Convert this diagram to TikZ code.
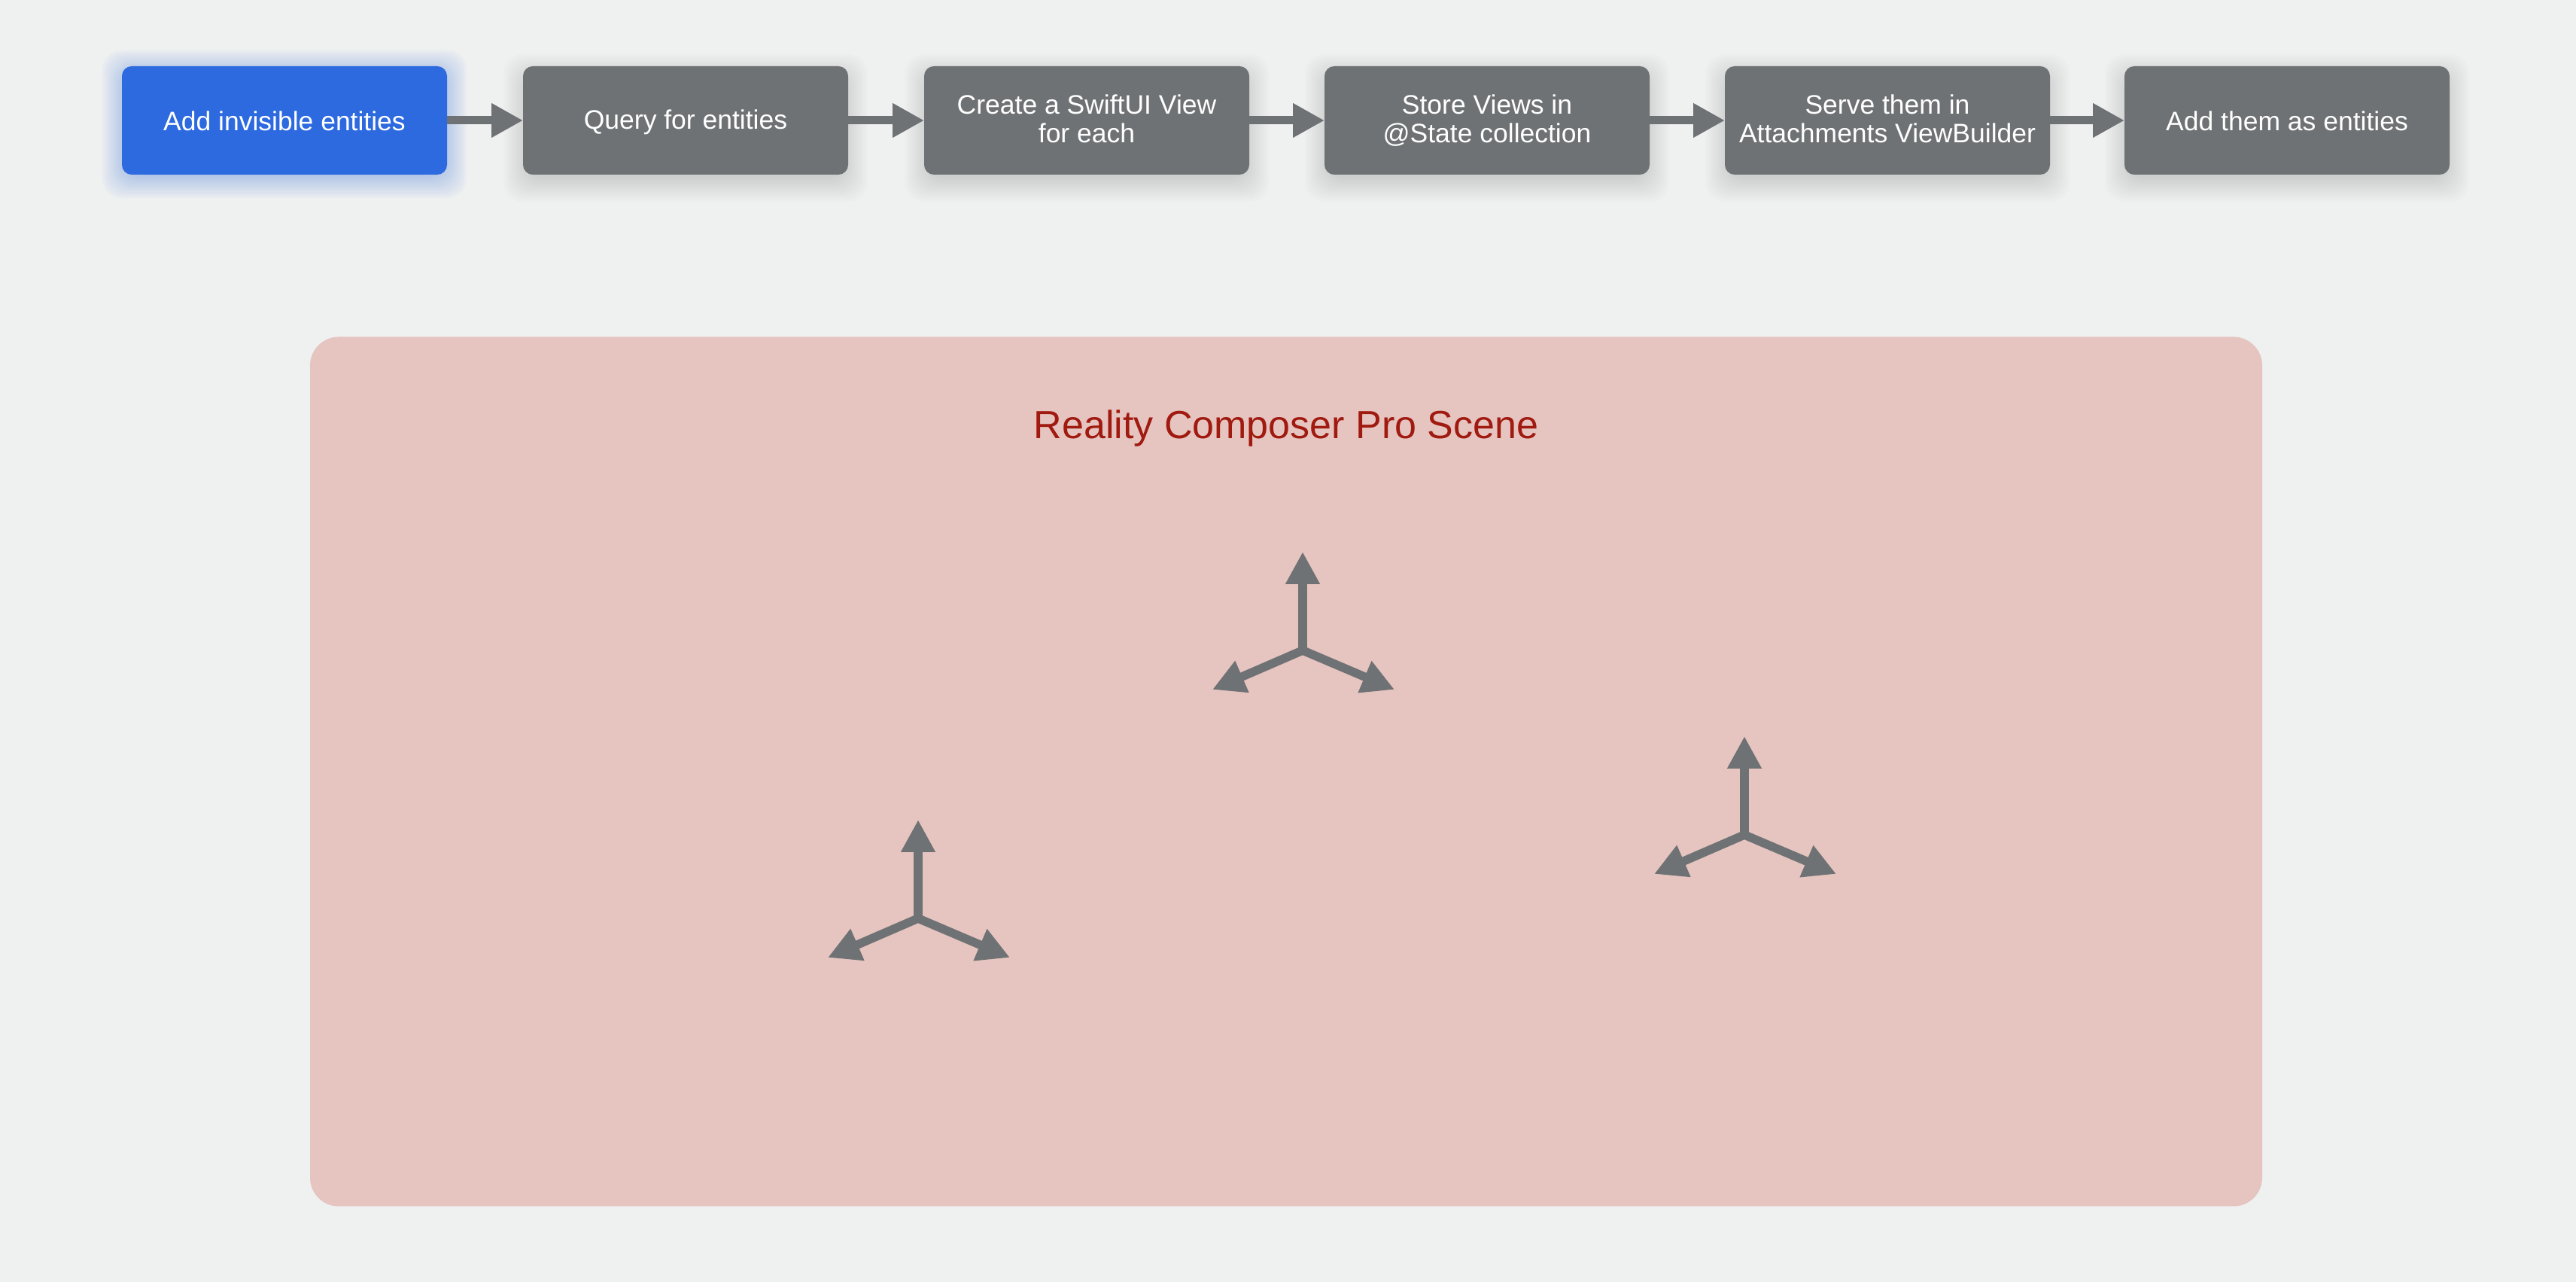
\documentclass[tikz,border=0pt]{standalone}
\usepackage{fontspec}
\setmainfont{Liberation Sans}
\usetikzlibrary{arrows.meta,backgrounds}
\definecolor{fundo}{HTML}{EFF1F1}
\definecolor{painel}{HTML}{E6C4C0}
\definecolor{azul}{HTML}{2D6ADF}
\definecolor{cinza}{HTML}{6F7274}
\definecolor{titulo}{HTML}{A01A10}
\newcommand{\apoio}{\rule[-1.3pt]{0pt}{10.2pt}}
\begin{document}
\begin{tikzpicture}[
                caixa/.style={shape=rectangle, rounded corners=0.13cm, fill=cinza, text=white, minimum width=4.32cm, minimum height=1.44cm, inner sep=0pt, outer sep=0pt, align=center, font=\fontsize{10.1}{10.9}\selectfont, execute at begin node=\apoio, execute at end node=\apoio},
                ativa/.style={caixa, fill=azul},
                seta/.style={draw=cinza, line width=0.11cm, -{Triangle[length=0.42cm, width=0.43cm]}},
                eixo/.style={draw=cinza, line width=0.115cm, -{Triangle[length=0.43cm, width=0.43cm]}},
            ]
            \useasboundingbox (0, 0) rectangle (34.23, 17.03);

            \node[ativa] (a) at (3.78, 15.43) {Add invisible entities};
            \node[caixa] (q) at (9.11, 15.43) {Query for entities};
            \node[caixa] (c) at (14.44, 15.43) {Create a SwiftUI View\\for each};
            \node[caixa] (s) at (19.76, 15.43) {Store Views in\\@State collection};
            \node[caixa] (v) at (25.08, 15.43) {Serve them in\\Attachments ViewBuilder};
            \node[caixa] (e) at (30.39, 15.43) {Add them as entities};

            \draw[seta] (a) -- (q);
            \draw[seta] (q) -- (c);
            \draw[seta] (c) -- (s);
            \draw[seta] (s) -- (v);
            \draw[seta] (v) -- (e);

            \begin{scope}[on background layer]
                \fill[fundo] (0, 0) rectangle (34.23, 17.03);
                % sombras das caixas
                \foreach \g in {-0.04, -0.01, ..., 0.26} {
                    \fill[azul, opacity=0.03, rounded corners=0.25cm] ([shift={(-\g, -\g-0.05)}]a.south west) rectangle ([shift={(\g, \g-0.05)}]a.north east);
                    \foreach \n in {q, c, s, v, e} {
                        \fill[black, opacity=0.012, rounded corners=0.25cm] ([shift={(-\g, -\g-0.1)}]\n.south west) rectangle ([shift={(\g, \g-0.1)}]\n.north east);
                    }
                }
            \end{scope}

            \node[shape=rectangle, rounded corners=0.38cm, fill=painel, minimum width=25.94cm, minimum height=11.55cm, outer sep=0pt] (p) at (17.09, 6.78) {};
            \node[text=titulo, font=\fontsize{14.8}{18}\selectfont] (t) at (17.09, 11.34) {Reality Composer Pro Scene};

            % os tres eixos
            \foreach \nome/\px/\py in {um/17.31/8.39, dois/23.18/5.94, tres/12.20/4.83} {
                \coordinate (\nome) at (\px, \py);
                \coordinate (\nome y) at (\px, \py+1.31);
                \coordinate (\nome l) at (\px-1.2, \py-0.52);
                \coordinate (\nome r) at (\px+1.22, \py-0.52);
                \draw[eixo] (\nome) -- (\nome y);
                \draw[eixo] (\nome) -- (\nome l);
                \draw[eixo] (\nome) -- (\nome r);
            }
        \end{tikzpicture}
\end{document}
